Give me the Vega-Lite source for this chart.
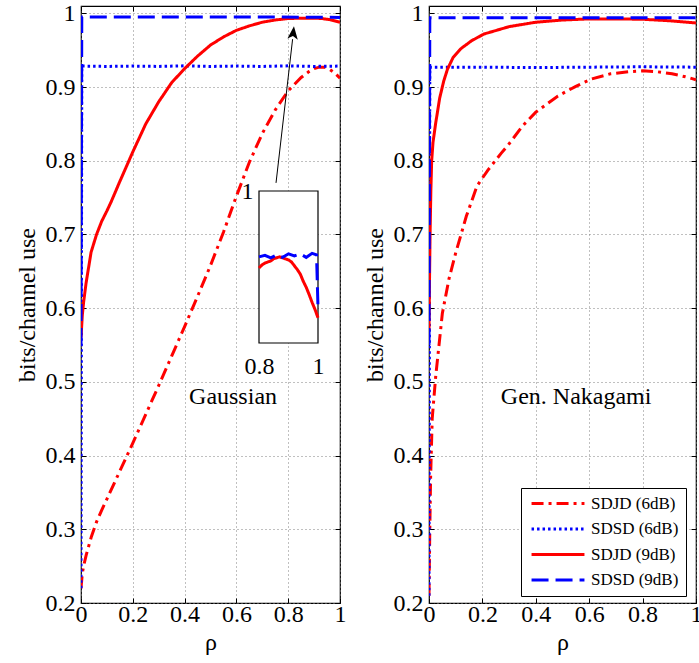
{
  "$schema": "https://vega.github.io/schema/vega-lite/v6.json",
  "background": "white",
  "padding": {"left": 14, "top": 0, "right": 0, "bottom": 0},
  "spacing": 15,
  "config": {
    "font": "Liberation Serif",
    "view": {"stroke": "black", "strokeWidth": 1.2},
    "axis": {
      "labelFont": "Liberation Serif", "labelFontSize": 24, "labelColor": "black",
      "titleFont": "Liberation Serif", "titleFontSize": 24, "titleFontWeight": "normal", "titleColor": "black",
      "domain": false, "tickColor": "black", "tickSize": -5, "tickWidth": 1,
      "gridColor": "#808080", "gridDash": [1, 3], "gridOpacity": 1, "gridWidth": 1,
      "labelFlush": false, "labelOverlap": false
    },
    "text": {"font": "Liberation Serif"}
  },
  "datasets": {
    "g": [
      {"s": "SDJD (6dB)", "x": 0, "y": 0.22}, {"s": "SDJD (6dB)", "x": 0.005, "y": 0.24}, {"s": "SDJD (6dB)", "x": 0.01, "y": 0.25},
      {"s": "SDJD (6dB)", "x": 0.02, "y": 0.265}, {"s": "SDJD (6dB)", "x": 0.04, "y": 0.29}, {"s": "SDJD (6dB)", "x": 0.06, "y": 0.31},
      {"s": "SDJD (6dB)", "x": 0.08, "y": 0.326}, {"s": "SDJD (6dB)", "x": 0.1, "y": 0.341}, {"s": "SDJD (6dB)", "x": 0.15, "y": 0.379},
      {"s": "SDJD (6dB)", "x": 0.2, "y": 0.417}, {"s": "SDJD (6dB)", "x": 0.25, "y": 0.456}, {"s": "SDJD (6dB)", "x": 0.3, "y": 0.495},
      {"s": "SDJD (6dB)", "x": 0.35, "y": 0.535}, {"s": "SDJD (6dB)", "x": 0.4, "y": 0.575}, {"s": "SDJD (6dB)", "x": 0.45, "y": 0.616},
      {"s": "SDJD (6dB)", "x": 0.5, "y": 0.658}, {"s": "SDJD (6dB)", "x": 0.55, "y": 0.703}, {"s": "SDJD (6dB)", "x": 0.6, "y": 0.752},
      {"s": "SDJD (6dB)", "x": 0.65, "y": 0.798}, {"s": "SDJD (6dB)", "x": 0.7, "y": 0.837}, {"s": "SDJD (6dB)", "x": 0.75, "y": 0.869},
      {"s": "SDJD (6dB)", "x": 0.8, "y": 0.895}, {"s": "SDJD (6dB)", "x": 0.85, "y": 0.913}, {"s": "SDJD (6dB)", "x": 0.88, "y": 0.921},
      {"s": "SDJD (6dB)", "x": 0.9, "y": 0.925}, {"s": "SDJD (6dB)", "x": 0.92, "y": 0.927}, {"s": "SDJD (6dB)", "x": 0.94, "y": 0.927},
      {"s": "SDJD (6dB)", "x": 0.96, "y": 0.924}, {"s": "SDJD (6dB)", "x": 0.98, "y": 0.919}, {"s": "SDJD (6dB)", "x": 1, "y": 0.912},
      {"s": "SDSD (6dB)", "x": 0, "y": 0.22}, {"s": "SDSD (6dB)", "x": 0.003, "y": 0.9285}, {"s": "SDSD (6dB)", "x": 0.1, "y": 0.928},
      {"s": "SDSD (6dB)", "x": 0.2, "y": 0.9285}, {"s": "SDSD (6dB)", "x": 0.3, "y": 0.928}, {"s": "SDSD (6dB)", "x": 0.4, "y": 0.9288},
      {"s": "SDSD (6dB)", "x": 0.5, "y": 0.928}, {"s": "SDSD (6dB)", "x": 0.6, "y": 0.9285}, {"s": "SDSD (6dB)", "x": 0.7, "y": 0.928},
      {"s": "SDSD (6dB)", "x": 0.8, "y": 0.9288}, {"s": "SDSD (6dB)", "x": 0.9, "y": 0.928}, {"s": "SDSD (6dB)", "x": 1, "y": 0.9285},
      {"s": "SDJD (9dB)", "x": 0, "y": 0.56}, {"s": "SDJD (9dB)", "x": 0.005, "y": 0.59}, {"s": "SDJD (9dB)", "x": 0.01, "y": 0.608},
      {"s": "SDJD (9dB)", "x": 0.02, "y": 0.635}, {"s": "SDJD (9dB)", "x": 0.039, "y": 0.676}, {"s": "SDJD (9dB)", "x": 0.06, "y": 0.7},
      {"s": "SDJD (9dB)", "x": 0.08, "y": 0.718}, {"s": "SDJD (9dB)", "x": 0.1, "y": 0.732}, {"s": "SDJD (9dB)", "x": 0.116, "y": 0.744},
      {"s": "SDJD (9dB)", "x": 0.15, "y": 0.772}, {"s": "SDJD (9dB)", "x": 0.2, "y": 0.812}, {"s": "SDJD (9dB)", "x": 0.25, "y": 0.85},
      {"s": "SDJD (9dB)", "x": 0.3, "y": 0.88}, {"s": "SDJD (9dB)", "x": 0.35, "y": 0.906}, {"s": "SDJD (9dB)", "x": 0.4, "y": 0.925},
      {"s": "SDJD (9dB)", "x": 0.45, "y": 0.942}, {"s": "SDJD (9dB)", "x": 0.5, "y": 0.957}, {"s": "SDJD (9dB)", "x": 0.55, "y": 0.968},
      {"s": "SDJD (9dB)", "x": 0.6, "y": 0.977}, {"s": "SDJD (9dB)", "x": 0.65, "y": 0.983}, {"s": "SDJD (9dB)", "x": 0.7, "y": 0.988},
      {"s": "SDJD (9dB)", "x": 0.75, "y": 0.991}, {"s": "SDJD (9dB)", "x": 0.8, "y": 0.993}, {"s": "SDJD (9dB)", "x": 0.85, "y": 0.9935},
      {"s": "SDJD (9dB)", "x": 0.9, "y": 0.9935}, {"s": "SDJD (9dB)", "x": 0.93, "y": 0.993}, {"s": "SDJD (9dB)", "x": 0.96, "y": 0.9915},
      {"s": "SDJD (9dB)", "x": 1, "y": 0.988},
      {"s": "SDSD (9dB)", "x": 0, "y": 0.55}, {"s": "SDSD (9dB)", "x": 0.003, "y": 0.995}, {"s": "SDSD (9dB)", "x": 0.25, "y": 0.995},
      {"s": "SDSD (9dB)", "x": 0.5, "y": 0.995}, {"s": "SDSD (9dB)", "x": 0.75, "y": 0.995}, {"s": "SDSD (9dB)", "x": 1, "y": 0.9945}
    ],
    "n": [
      {"s": "SDJD (6dB)", "x": 0, "y": 0.21}, {"s": "SDJD (6dB)", "x": 0.003, "y": 0.3}, {"s": "SDJD (6dB)", "x": 0.006, "y": 0.37},
      {"s": "SDJD (6dB)", "x": 0.012, "y": 0.45}, {"s": "SDJD (6dB)", "x": 0.025, "y": 0.507}, {"s": "SDJD (6dB)", "x": 0.05, "y": 0.593},
      {"s": "SDJD (6dB)", "x": 0.075, "y": 0.64}, {"s": "SDJD (6dB)", "x": 0.1, "y": 0.675}, {"s": "SDJD (6dB)", "x": 0.14, "y": 0.725},
      {"s": "SDJD (6dB)", "x": 0.18, "y": 0.766}, {"s": "SDJD (6dB)", "x": 0.22, "y": 0.787}, {"s": "SDJD (6dB)", "x": 0.27, "y": 0.81},
      {"s": "SDJD (6dB)", "x": 0.3, "y": 0.823}, {"s": "SDJD (6dB)", "x": 0.35, "y": 0.847}, {"s": "SDJD (6dB)", "x": 0.4, "y": 0.866},
      {"s": "SDJD (6dB)", "x": 0.483, "y": 0.888}, {"s": "SDJD (6dB)", "x": 0.55, "y": 0.901}, {"s": "SDJD (6dB)", "x": 0.609, "y": 0.911},
      {"s": "SDJD (6dB)", "x": 0.68, "y": 0.918}, {"s": "SDJD (6dB)", "x": 0.75, "y": 0.921}, {"s": "SDJD (6dB)", "x": 0.8, "y": 0.922},
      {"s": "SDJD (6dB)", "x": 0.85, "y": 0.921}, {"s": "SDJD (6dB)", "x": 0.91, "y": 0.918}, {"s": "SDJD (6dB)", "x": 0.96, "y": 0.914},
      {"s": "SDJD (6dB)", "x": 1, "y": 0.91},
      {"s": "SDSD (6dB)", "x": 0, "y": 0.21}, {"s": "SDSD (6dB)", "x": 0.003, "y": 0.927}, {"s": "SDSD (6dB)", "x": 0.2, "y": 0.927},
      {"s": "SDSD (6dB)", "x": 0.4, "y": 0.9265}, {"s": "SDSD (6dB)", "x": 0.6, "y": 0.927}, {"s": "SDSD (6dB)", "x": 0.8, "y": 0.9275},
      {"s": "SDSD (6dB)", "x": 1, "y": 0.927},
      {"s": "SDJD (9dB)", "x": 0, "y": 0.57}, {"s": "SDJD (9dB)", "x": 0.002, "y": 0.64}, {"s": "SDJD (9dB)", "x": 0.004, "y": 0.7},
      {"s": "SDJD (9dB)", "x": 0.007, "y": 0.76}, {"s": "SDJD (9dB)", "x": 0.01, "y": 0.8}, {"s": "SDJD (9dB)", "x": 0.015, "y": 0.825},
      {"s": "SDJD (9dB)", "x": 0.025, "y": 0.851}, {"s": "SDJD (9dB)", "x": 0.04, "y": 0.885}, {"s": "SDJD (9dB)", "x": 0.055, "y": 0.908},
      {"s": "SDJD (9dB)", "x": 0.069, "y": 0.924}, {"s": "SDJD (9dB)", "x": 0.09, "y": 0.94}, {"s": "SDJD (9dB)", "x": 0.119, "y": 0.952},
      {"s": "SDJD (9dB)", "x": 0.16, "y": 0.963}, {"s": "SDJD (9dB)", "x": 0.206, "y": 0.972}, {"s": "SDJD (9dB)", "x": 0.3, "y": 0.982},
      {"s": "SDJD (9dB)", "x": 0.4, "y": 0.988}, {"s": "SDJD (9dB)", "x": 0.5, "y": 0.991}, {"s": "SDJD (9dB)", "x": 0.6, "y": 0.9925},
      {"s": "SDJD (9dB)", "x": 0.7, "y": 0.9925}, {"s": "SDJD (9dB)", "x": 0.8, "y": 0.992}, {"s": "SDJD (9dB)", "x": 0.9, "y": 0.99},
      {"s": "SDJD (9dB)", "x": 1, "y": 0.987},
      {"s": "SDSD (9dB)", "x": 0, "y": 0.55}, {"s": "SDSD (9dB)", "x": 0.003, "y": 0.994}, {"s": "SDSD (9dB)", "x": 0.5, "y": 0.994},
      {"s": "SDSD (9dB)", "x": 1, "y": 0.994}
    ],
    "ins": [
      {"s": "SDJD (9dB)", "x": 0.8, "y": 0.9924}, {"s": "SDJD (9dB)", "x": 0.81, "y": 0.9927}, {"s": "SDJD (9dB)", "x": 0.82, "y": 0.99289},
      {"s": "SDJD (9dB)", "x": 0.84, "y": 0.9931}, {"s": "SDJD (9dB)", "x": 0.85, "y": 0.99333}, {"s": "SDJD (9dB)", "x": 0.87, "y": 0.9935},
      {"s": "SDJD (9dB)", "x": 0.88, "y": 0.9934}, {"s": "SDJD (9dB)", "x": 0.9, "y": 0.9932}, {"s": "SDJD (9dB)", "x": 0.91, "y": 0.993},
      {"s": "SDJD (9dB)", "x": 0.93, "y": 0.99224}, {"s": "SDJD (9dB)", "x": 0.94, "y": 0.9918}, {"s": "SDJD (9dB)", "x": 0.95, "y": 0.99109},
      {"s": "SDJD (9dB)", "x": 0.96, "y": 0.9905}, {"s": "SDJD (9dB)", "x": 0.97, "y": 0.98978}, {"s": "SDJD (9dB)", "x": 0.98, "y": 0.989},
      {"s": "SDJD (9dB)", "x": 0.99, "y": 0.9883}, {"s": "SDJD (9dB)", "x": 1, "y": 0.98749},
      {"s": "SDSD (9dB)", "x": 0.8, "y": 0.9935}, {"s": "SDSD (9dB)", "x": 0.82, "y": 0.99365}, {"s": "SDSD (9dB)", "x": 0.84, "y": 0.9934},
      {"s": "SDSD (9dB)", "x": 0.86, "y": 0.9937}, {"s": "SDSD (9dB)", "x": 0.88, "y": 0.99345}, {"s": "SDSD (9dB)", "x": 0.9, "y": 0.9938},
      {"s": "SDSD (9dB)", "x": 0.92, "y": 0.9936}, {"s": "SDSD (9dB)", "x": 0.94, "y": 0.9938}, {"s": "SDSD (9dB)", "x": 0.96, "y": 0.99345},
      {"s": "SDSD (9dB)", "x": 0.98, "y": 0.99385}, {"s": "SDSD (9dB)", "x": 0.995, "y": 0.9937}, {"s": "SDSD (9dB)", "x": 1, "y": 0.9885}
    ],
    "box": [{"x": 0.8, "x2": 1, "y": 0.985, "y2": 1}],
    "arr": [{"x": 0.753, "y": 0.77, "x2": 0.817, "y2": 0.965}],
    "lab1": [{"x": 0.587, "y": 0.479, "t": "Gaussian"}],
    "lab2": [{"x": 0.551, "y": 0.479, "t": "Gen. Nakagami"}]
  },
  "resolve": {"scale": {"color": "independent", "strokeDash": "independent"}},
  "hconcat": [
    {
      "width": 259,
      "height": 597,
      "layer": [
        {
          "layer": [
            {
              "data": {"name": "g"},
              "mark": {"type": "line", "strokeWidth": 3, "clip": true},
              "encoding": {
                "x": {"field": "x", "type": "quantitative", "scale": {"domain": [0, 1], "nice": false, "zero": false},
                      "axis": {"orient": "bottom", "values": [0, 0.2, 0.4, 0.6, 0.8, 1], "format": "~g", "title": "ρ", "grid": true, "labelPadding": 4, "titlePadding": 4}},
                "y": {"field": "y", "type": "quantitative", "scale": {"domain": [0.2, 1.01], "nice": false, "zero": false},
                      "axis": {"orient": "left", "values": [0.2, 0.3, 0.4, 0.5, 0.6, 0.7, 0.8, 0.9, 1], "format": "~g", "title": "bits/channel use", "grid": true, "labelPadding": 11, "titlePadding": 6}},
                "color": {"field": "s", "type": "nominal", "scale": {"domain": ["SDJD (6dB)", "SDSD (6dB)", "SDJD (9dB)", "SDSD (9dB)"], "range": ["#ff0000", "#0000ff", "#ff0000", "#0000ff"]}, "legend": null},
                "strokeDash": {"field": "s", "type": "nominal", "scale": {"domain": ["SDJD (6dB)", "SDSD (6dB)", "SDJD (9dB)", "SDSD (9dB)"], "range": [[12, 5, 3, 5], [2.5, 3], [1, 0], [17, 7]]}, "legend": null}
              }
            },
            {
              "data": {"name": "lab1"},
              "mark": {"type": "text", "fontSize": 24, "font": "Liberation Serif", "color": "black", "align": "center", "baseline": "middle"},
              "encoding": {
                "x": {"field": "x", "type": "quantitative", "scale": {"domain": [0, 1], "nice": false, "zero": false},
                      "axis": {"orient": "top", "values": [0, 0.2, 0.4, 0.6, 0.8, 1], "labels": false, "title": null, "grid": false}},
                "y": {"field": "y", "type": "quantitative", "scale": {"domain": [0.2, 1.01], "nice": false, "zero": false},
                      "axis": {"orient": "right", "values": [0.2, 0.3, 0.4, 0.5, 0.6, 0.7, 0.8, 0.9, 1], "labels": false, "title": null, "grid": false}},
                "text": {"field": "t"}
              }
            },
            {
              "data": {"name": "arr"},
              "mark": {"type": "rule", "color": "black", "strokeWidth": 1},
              "encoding": {
                "x": {"field": "x", "type": "quantitative", "axis": null},
                "y": {"field": "y", "type": "quantitative", "axis": null},
                "x2": {"field": "x2"},
                "y2": {"field": "y2"}
              }
            },
            {
              "data": {"name": "arr"},
              "mark": {"type": "point", "shape": "M0,-1L0.4,0L0,-0.25L-0.4,0Z", "filled": true, "color": "black", "opacity": 1, "size": 676, "angle": 6},
              "encoding": {
                "x": {"field": "x2", "type": "quantitative", "axis": null},
                "y": {"field": "y2", "type": "quantitative", "axis": null}
              }
            }
          ],
          "resolve": {"axis": {"x": "independent", "y": "independent"}}
        },
        {
          "layer": [
            {
              "data": {"name": "box"},
              "mark": {"type": "rect", "fill": "white", "stroke": "black", "strokeWidth": 1.2},
              "encoding": {
                "x": {"field": "x", "type": "quantitative", "scale": {"domain": [0.8, 1], "range": [178, 237], "nice": false, "zero": false},
                      "axis": {"orient": "bottom", "offset": -260, "values": [0.8, 1], "format": "~g", "title": null, "grid": false, "ticks": false, "domain": false, "labelPadding": 11}},
                "x2": {"field": "x2"},
                "y": {"field": "y", "type": "quantitative", "scale": {"domain": [0.985, 1], "range": [337, 185], "nice": false, "zero": false},
                      "axis": {"orient": "left", "offset": -178, "values": [1], "format": "~g", "title": null, "grid": false, "ticks": false, "domain": false, "labelPadding": 6}},
                "y2": {"field": "y2"}
              }
            },
            {
              "data": {"name": "ins"},
              "mark": {"type": "line", "strokeWidth": 3},
              "encoding": {
                "x": {"field": "x", "type": "quantitative", "scale": {"domain": [0.8, 1], "range": [178, 237], "nice": false, "zero": false},
                      "axis": {"orient": "bottom", "offset": -260, "values": [0.8, 1], "format": "~g", "title": null, "grid": false, "ticks": false, "domain": false, "labelPadding": 11}},
                "y": {"field": "y", "type": "quantitative", "scale": {"domain": [0.985, 1], "range": [337, 185], "nice": false, "zero": false},
                      "axis": {"orient": "left", "offset": -178, "values": [1], "format": "~g", "title": null, "grid": false, "ticks": false, "domain": false, "labelPadding": 6}},
                "color": {"field": "s", "type": "nominal", "scale": {"domain": ["SDJD (6dB)", "SDSD (6dB)", "SDJD (9dB)", "SDSD (9dB)"], "range": ["#ff0000", "#0000ff", "#ff0000", "#0000ff"]}, "legend": null},
                "strokeDash": {"field": "s", "type": "nominal", "scale": {"domain": ["SDJD (6dB)", "SDSD (6dB)", "SDJD (9dB)", "SDSD (9dB)"], "range": [[12, 5, 3, 5], [2.5, 3], [1, 0], [17, 7]]}, "legend": null}
              }
            }
          ]
        }
      ],
      "resolve": {"scale": {"x": "independent", "y": "independent"}}
    },
    {
      "width": 267,
      "height": 597,
      "layer": [
        {
          "data": {"name": "n"},
          "mark": {"type": "line", "strokeWidth": 3, "clip": true},
          "encoding": {
            "x": {"field": "x", "type": "quantitative", "scale": {"domain": [0, 1], "nice": false, "zero": false},
                  "axis": {"orient": "bottom", "values": [0, 0.2, 0.4, 0.6, 0.8, 1], "format": "~g", "title": "ρ", "grid": true, "labelPadding": 4, "titlePadding": 4}},
            "y": {"field": "y", "type": "quantitative", "scale": {"domain": [0.2, 1.01], "nice": false, "zero": false},
                  "axis": {"orient": "left", "values": [0.2, 0.3, 0.4, 0.5, 0.6, 0.7, 0.8, 0.9, 1], "format": "~g", "title": "bits/channel use", "grid": true, "labelPadding": 11, "titlePadding": 6}},
            "color": {"field": "s", "type": "nominal", "scale": {"domain": ["SDJD (6dB)", "SDSD (6dB)", "SDJD (9dB)", "SDSD (9dB)"], "range": ["#ff0000", "#0000ff", "#ff0000", "#0000ff"]},
                      "legend": {"orient": "none", "legendX": 92, "legendY": 482, "title": null, "symbolType": "stroke", "symbolSize": 2800, "symbolStrokeWidth": 3, "symbolOffset": 2, "clipHeight": 17, "labelFontSize": 17, "labelFont": "Liberation Serif", "labelColor": "black", "labelExpr": "datum.label + '  '", "fillColor": "white", "strokeColor": "black", "padding": 7, "rowPadding": 7.5, "labelOffset": 5}},
            "strokeDash": {"field": "s", "type": "nominal", "scale": {"domain": ["SDJD (6dB)", "SDSD (6dB)", "SDJD (9dB)", "SDSD (9dB)"], "range": [[12, 5, 3, 5], [2.5, 3], [1, 0], [17, 7]]},
                      "legend": {"orient": "none", "legendX": 92, "legendY": 482, "title": null, "symbolType": "stroke", "symbolSize": 2800, "symbolStrokeWidth": 3, "symbolOffset": 2, "clipHeight": 17, "labelFontSize": 17, "labelFont": "Liberation Serif", "labelColor": "black", "labelExpr": "datum.label + '  '", "fillColor": "white", "strokeColor": "black", "padding": 7, "rowPadding": 7.5, "labelOffset": 5}}
          }
        },
        {
          "data": {"name": "lab2"},
          "mark": {"type": "text", "fontSize": 24, "font": "Liberation Serif", "color": "black", "align": "center", "baseline": "middle"},
          "encoding": {
            "x": {"field": "x", "type": "quantitative", "scale": {"domain": [0, 1], "nice": false, "zero": false},
                  "axis": {"orient": "top", "values": [0, 0.2, 0.4, 0.6, 0.8, 1], "labels": false, "title": null, "grid": false}},
            "y": {"field": "y", "type": "quantitative", "scale": {"domain": [0.2, 1.01], "nice": false, "zero": false},
                  "axis": {"orient": "right", "values": [0.2, 0.3, 0.4, 0.5, 0.6, 0.7, 0.8, 0.9, 1], "labels": false, "title": null, "grid": false}},
            "text": {"field": "t"}
          }
        }
      ],
      "resolve": {"axis": {"x": "independent", "y": "independent"}}
    }
  ]
}
